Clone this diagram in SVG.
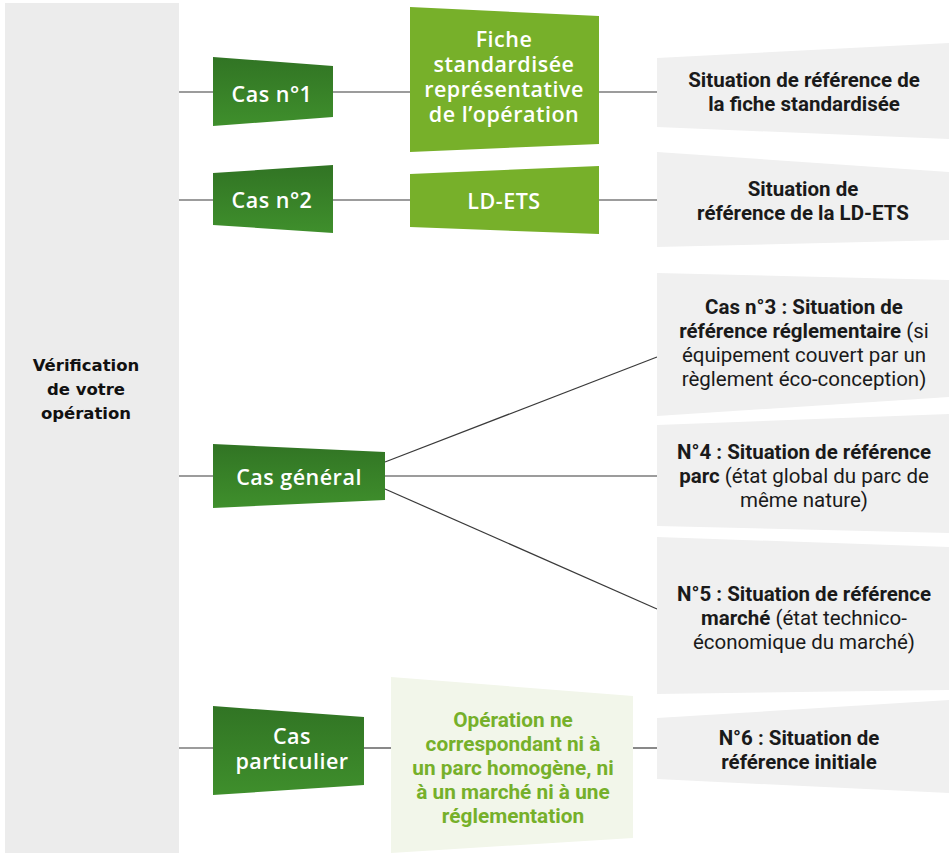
<svg xmlns="http://www.w3.org/2000/svg" width="949" height="853" viewBox="0 0 949 853">
<defs>
<linearGradient id="dg" x1="0" y1="0" x2="0" y2="1">
<stop offset="0" stop-color="#317424"/>
<stop offset="1" stop-color="#3f8f2c"/>
</linearGradient>
<style>
.dark{fill:url(#dg)}
.light{fill:#77b02a}
.gray{fill:#f0f0f0}
.pale{fill:#f2f6ea}
.conn{stroke:#3a3a3a;stroke-width:1.2;fill:none}
.wt{fill:#ffffff;font-family:"Open Sans","Noto Sans",sans-serif;font-weight:600;font-size:21.5px;letter-spacing:0.5px;text-anchor:middle}
.gt{fill:#1a1a1a;font-family:Roboto,"Noto Sans",sans-serif;font-size:20.5px;text-anchor:middle}
.b{font-weight:700}
.n{font-weight:400}
.ot{fill:#76b02a;font-family:Roboto,"Noto Sans",sans-serif;font-size:20.8px;font-weight:700;text-anchor:middle}
.lt{fill:#111;font-family:"DejaVu Sans",Verdana,sans-serif;font-size:16.5px;font-weight:700;text-anchor:middle}
</style>
</defs>
<rect width="949" height="853" fill="#ffffff"/>

<g id="verification">
<rect x="5" y="3" width="174" height="850" fill="#ececec"/>
<text class="lt"><tspan x="86" y="371">Vérification</tspan><tspan x="86" y="395">de votre</tspan><tspan x="86" y="419">opération</tspan></text>
</g>

<g id="connectors">
<line class="conn" x1="179" y1="92" x2="213" y2="92"/>
<line class="conn" x1="333" y1="92" x2="410" y2="92"/>
<line class="conn" x1="599" y1="92" x2="657" y2="92"/>
<line class="conn" x1="179" y1="200" x2="213" y2="200"/>
<line class="conn" x1="333" y1="200" x2="410" y2="200"/>
<line class="conn" x1="599" y1="200" x2="657" y2="200"/>
<line class="conn" x1="179" y1="476" x2="213" y2="476"/>
<line class="conn" x1="385" y1="462" x2="657" y2="357"/>
<line class="conn" x1="385" y1="476" x2="657" y2="476"/>
<line class="conn" x1="385" y1="489" x2="657" y2="609"/>
<line class="conn" x1="179" y1="748" x2="213" y2="748"/>
<line class="conn" x1="364" y1="748" x2="391" y2="748"/>
<line class="conn" x1="633" y1="748" x2="657" y2="748"/>
</g>

<g id="cas1">
<polygon class="dark" points="213,57 333,66 333,117 213,126"/>
<text class="wt" x="272" y="102">Cas n°1</text>
</g>
<g id="cas2">
<polygon class="dark" points="213,173 333,165 333,233 213,225"/>
<text class="wt" x="272" y="208">Cas n°2</text>
</g>
<g id="casgeneral">
<polygon class="dark" points="213,444 385,452 385,500 213,508"/>
<text class="wt" x="299" y="485">Cas général</text>
</g>
<g id="casparticulier">
<polygon class="dark" points="213,706 364,717 364,785 213,795"/>
<text class="wt"><tspan x="292" y="744">Cas</tspan><tspan x="292" y="769">particulier</tspan></text>
</g>

<g id="fiche">
<polygon class="light" points="410,7 599,16 599,144 410,152"/>
<text class="wt"><tspan x="504" y="47">Fiche</tspan><tspan x="504" y="72">standardisée</tspan><tspan x="504" y="97">représentative</tspan><tspan x="504" y="122">de l’opération</tspan></text>
</g>
<g id="ldets">
<polygon class="light" points="410,174 599,166 599,234 410,227"/>
<text class="wt" x="504" y="209">LD-ETS</text>
</g>
<g id="operation">
<polygon class="pale" points="391,677 633,696 633,838 391,853"/>
<text class="ot"><tspan x="513" y="727">Opération ne</tspan><tspan x="513" y="751">correspondant ni à</tspan><tspan x="513" y="775">un parc homogène, ni</tspan><tspan x="513" y="799">à un marché ni à une</tspan><tspan x="513" y="823">réglementation</tspan></text>
</g>

<g id="ref1">
<polygon class="gray" points="657,58 949,43 949,139 657,127"/>
<text class="gt b"><tspan x="804" y="87">Situation de référence de</tspan><tspan x="804" y="111">la fiche standardisée</tspan></text>
</g>
<g id="ref2">
<polygon class="gray" points="657,152 949,172 949,240 657,247"/>
<text class="gt b"><tspan x="803" y="196">Situation de</tspan><tspan x="803" y="220">référence de la LD-ETS</tspan></text>
</g>
<g id="ref3">
<polygon class="gray" points="657,273 949,280 949,397 657,416"/>
<text class="gt"><tspan x="804" y="314" class="b">Cas n°3 : Situation de</tspan><tspan x="804" y="338"><tspan class="b">référence réglementaire</tspan><tspan class="n"> (si</tspan></tspan><tspan x="804" y="362" class="n">équipement couvert par un</tspan><tspan x="804" y="386" class="n">règlement éco-conception)</tspan></text>
</g>
<g id="ref4">
<polygon class="gray" points="657,425 949,414 949,533 657,526"/>
<text class="gt"><tspan x="804" y="459" class="b">N°4 : Situation de référence</tspan><tspan x="804" y="483"><tspan class="b">parc</tspan><tspan class="n"> (état global du parc de</tspan></tspan><tspan x="804" y="507" class="n">même nature)</tspan></text>
</g>
<g id="ref5">
<polygon class="gray" points="657,537 949,547 949,690 657,694"/>
<text class="gt"><tspan x="804" y="601" class="b">N°5 : Situation de référence</tspan><tspan x="804" y="625"><tspan class="b">marché</tspan><tspan class="n"> (état technico-</tspan></tspan><tspan x="804" y="649" class="n">économique du marché)</tspan></text>
</g>
<g id="ref6">
<polygon class="gray" points="657,718 949,700 949,793 657,779"/>
<text class="gt b"><tspan x="799" y="745">N°6 : Situation de</tspan><tspan x="799" y="769">référence initiale</tspan></text>
</g>
</svg>
